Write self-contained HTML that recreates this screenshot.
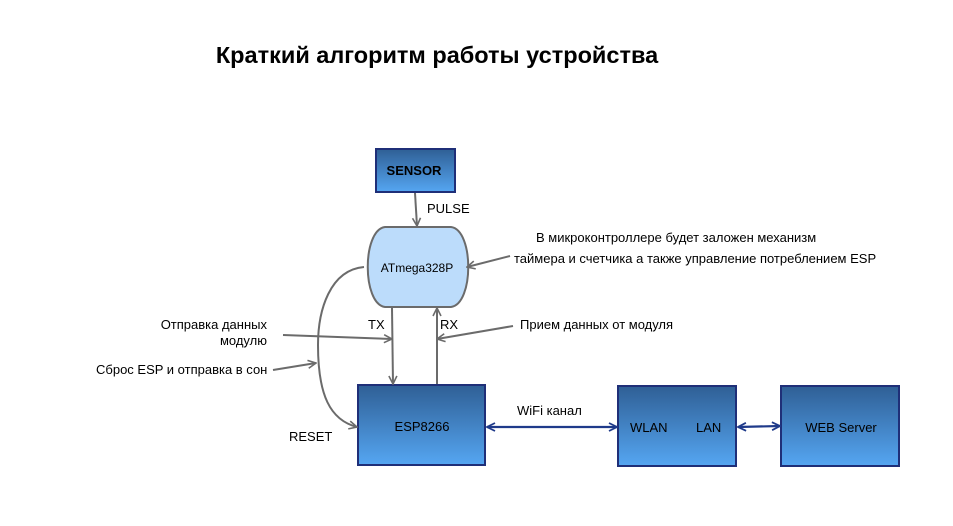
<!DOCTYPE html>
<html><head><meta charset="utf-8"><style>
html,body{margin:0;padding:0;background:#fff}
svg{display:block;font-family:"Liberation Sans",Arial,sans-serif}
</style></head><body>
<svg width="953" height="526" viewBox="0 0 953 526" xmlns="http://www.w3.org/2000/svg">
<defs>
<linearGradient id="g" x1="0" y1="0" x2="0" y2="1">
<stop offset="0" stop-color="#2f5f95"/><stop offset="1" stop-color="#55a6f2"/>
</linearGradient>
<marker id="a" viewBox="0 0 10 10" refX="9" refY="5" markerWidth="10" markerHeight="10" markerUnits="userSpaceOnUse" orient="auto-start-reverse">
<path d="M1,1 L9,5 L1,9" fill="none" stroke="#6b6b6b" stroke-width="1.6"/></marker>
<marker id="b" viewBox="0 0 10 10" refX="9" refY="5" markerWidth="10" markerHeight="10" markerUnits="userSpaceOnUse" orient="auto-start-reverse">
<path d="M1,1 L9,5 L1,9" fill="none" stroke="#1f3a8a" stroke-width="1.8"/></marker>
</defs>
<text x="437" y="63" font-size="23.5" font-weight="bold" text-anchor="middle" fill="#000">Краткий алгоритм работы устройства</text>

<rect x="376" y="149" width="79" height="43" fill="url(#g)" stroke="#1f2f78" stroke-width="2"/>
<text x="414" y="175" font-size="13" font-weight="bold" text-anchor="middle" fill="#000">SENSOR</text>

<path d="M385,227 L451,227 C474,230 474,304 451,307 L385,307 C362,304 362,230 385,227 Z" fill="#bcdcfb" stroke="#6b6b6b" stroke-width="2"/>
<text x="417" y="272" font-size="12" text-anchor="middle" fill="#000">ATmega328P</text>

<rect x="358" y="385" width="127" height="80" fill="url(#g)" stroke="#1f2f78" stroke-width="2"/>
<text x="422" y="431" font-size="13" text-anchor="middle" fill="#000">ESP8266</text>
<rect x="618" y="386" width="118" height="80" fill="url(#g)" stroke="#1f2f78" stroke-width="2"/>
<text x="630" y="432" font-size="13" fill="#000">WLAN</text>
<text x="696" y="432" font-size="13" fill="#000">LAN</text>
<rect x="781" y="386" width="118" height="80" fill="url(#g)" stroke="#1f2f78" stroke-width="2"/>
<text x="841" y="432" font-size="13" text-anchor="middle" fill="#000">WEB Server</text>

<g stroke="#6b6b6b" stroke-width="2" fill="none">
<line x1="415" y1="193" x2="417" y2="226" marker-end="url(#a)"/>
<line x1="392" y1="308" x2="393" y2="384" marker-end="url(#a)"/>
<line x1="437" y1="384" x2="437" y2="308" marker-end="url(#a)"/>
<line x1="510" y1="256" x2="467" y2="267" marker-end="url(#a)"/>
<line x1="513" y1="326" x2="437" y2="339" marker-end="url(#a)"/>
<line x1="283" y1="335" x2="392" y2="339" marker-end="url(#a)"/>
<line x1="273" y1="370" x2="316" y2="363" marker-end="url(#a)"/>
<path d="M364,267 C330,270 318,310 318,345 C318,395 330,420 357,427" marker-end="url(#a)"/>
</g>
<g stroke="#1f3a8a" stroke-width="2.2" fill="none">
<line x1="487" y1="427" x2="617" y2="427" marker-start="url(#b)" marker-end="url(#b)"/>
<line x1="738" y1="427" x2="780" y2="426" marker-start="url(#b)" marker-end="url(#b)"/>
</g>

<g font-size="13" fill="#000">
<text x="427" y="213">PULSE</text>
<text x="368" y="329">TX</text>
<text x="440" y="329">RX</text>
<text x="289" y="441">RESET</text>
<text x="517" y="415">WiFi канал</text>
<text x="536" y="242">В микроконтроллере будет заложен механизм</text>
<text x="514" y="263">таймера и счетчика а также управление потреблением ESP</text>
<text x="520" y="329">Прием данных от модуля</text>
<text x="267" y="329" text-anchor="end">Отправка данных</text>
<text x="267" y="345" text-anchor="end">модулю</text>
<text x="96" y="374">Сброс ESP и отправка в сон</text>
</g>
</svg>
</body></html>
